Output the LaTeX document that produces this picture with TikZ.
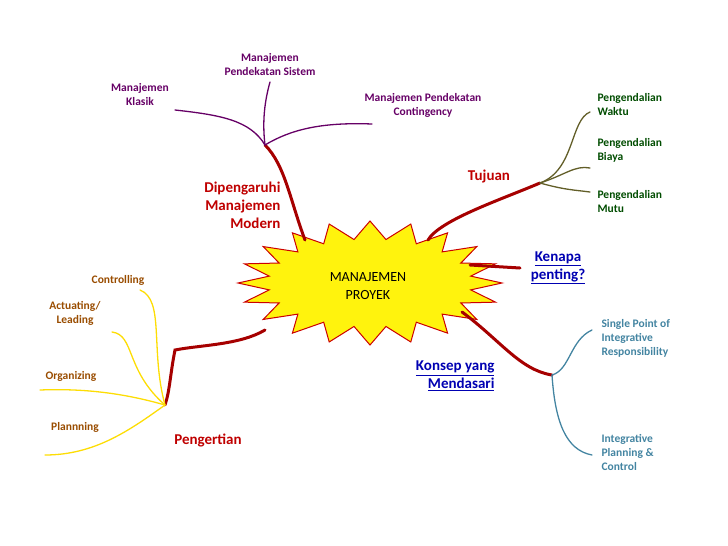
\documentclass[tikz,border=0pt]{standalone}
\usepackage{fontspec}
\setmainfont{Carlito}
\begin{document}
\begin{tikzpicture}[x=1pt,y=-1pt,
  trunk/.style={line width=3pt,draw=red!65!black,line cap=round},
  twig/.style={line width=1.3pt,line cap=round},
  leaf/.style={font=\fontsize{11.5}{14}\selectfont\bfseries,align=center},
  head/.style={font=\fontsize{15}{18}\selectfont\bfseries,text=red!75!black},
  link/.style={font=\fontsize{15}{18}\selectfont\bfseries,text=blue!70!black}]
\useasboundingbox (0,0) rectangle (728,546);
% bintang tengah
\fill[yellow!95!white,draw=red!80!black,line width=1pt]
  plot[samples=41,domain=0:40,variable=\k]
  ({370+(mod(\k,2)==0 ? 132 : 102)*cos(\k*360/40)},{283+(mod(\k,2)==0 ? 62 : 44)*sin(\k*360/40)}) -- cycle;
\node[font=\fontsize{14}{18}\selectfont,align=center] (pusat) at (368,286) {MANAJEMEN\\PROYEK};
% titik cabang
\coordinate (hubA) at (265,145);
\coordinate (hubB) at (540,183);
\coordinate (hubC) at (552,375);
\coordinate (hubD) at (165,405);
% batang utama
\draw[trunk] (305,240) .. controls (290,200) and (285,165) .. (hubA);
\draw[trunk] (428,240) .. controls (440,220) and (500,200) .. (hubB);
\draw[trunk] (470,265) -- (520,268);
\draw[trunk] (462,312) .. controls (500,340) and (520,370) .. (hubC);
\draw[trunk] (265,330) .. controls (240,345) and (200,345) .. (175,350) .. controls (170,375) and (170,390) .. (hubD);
% label batang
\node[head,align=right,anchor=east] (lblA) at (284,205) {Dipengaruhi\\Manajemen\\Modern};
\node[head] (lblB) at (489,177) {Tujuan};
\node[link,align=center] (lblC) at (558,268) {\underline{Kenapa}\\\underline{penting?}};
\node[link,align=right,anchor=east] (lblD) at (498,376) {\underline{Konsep yang}\\\underline{Mendasari}};
\node[head] (lblE) at (208,440) {Pengertian};
% daun ungu
\begin{scope}[violet!80!black]
\node[leaf] (klasik) at (140,95) {Manajemen\\Klasik};
\node[leaf] (sistem) at (270,65) {Manajemen\\Pendekatan Sistem};
\node[leaf] (conting) at (423,105) {Manajemen Pendekatan\\Contingency};
\draw[twig] (hubA) .. controls (250,120) and (220,115) .. (175,110);
\draw[twig] (hubA) .. controls (262,120) and (265,100) .. (270,82);
\draw[twig] (hubA) .. controls (290,130) and (320,122) .. (372,124);
\end{scope}
% daun hijau
\begin{scope}[green!30!black]
\node[leaf,align=left,anchor=west] (waktu) at (594,105) {Pengendalian\\Waktu};
\node[leaf,align=left,anchor=west] (biaya) at (594,150) {Pengendalian\\Biaya};
\node[leaf,align=left,anchor=west] (mutu) at (594,202) {Pengendalian\\Mutu};
\draw[twig,draw=olive!60!black] (hubB) .. controls (575,170) and (570,120) .. (590,112);
\draw[twig,draw=olive!60!black] (hubB) .. controls (565,175) and (575,165) .. (590,168);
\draw[twig,draw=olive!60!black] (hubB) .. controls (565,190) and (575,190) .. (590,192);
\end{scope}
% daun biru
\begin{scope}[cyan!60!black]
\node[leaf,align=left,anchor=west] (single) at (598,338) {Single Point of\\Integrative\\Responsibility};
\node[leaf,align=left,anchor=west] (integ) at (598,452) {Integrative\\Planning \&\\Control};
\draw[twig] (hubC) .. controls (570,370) and (570,340) .. (592,330);
\draw[twig] (hubC) .. controls (555,420) and (565,450) .. (592,455);
\end{scope}
% daun kuning
\begin{scope}[orange!60!black]
\node[leaf] (ctrl) at (118,280) {Controlling};
\node[leaf] (act) at (75,313) {Actuating/\\Leading};
\node[leaf] (org) at (71,376) {Organizing};
\node[leaf] (plan) at (75,427) {Plannning};
\draw[twig,draw=yellow!80!orange] (hubD) .. controls (150,350) and (165,300) .. (140,290);
\draw[twig,draw=yellow!80!orange] (hubD) .. controls (125,370) and (135,335) .. (112,332);
\draw[twig,draw=yellow!80!orange] (hubD) .. controls (130,395) and (90,388) .. (40,390);
\draw[twig,draw=yellow!80!orange] (hubD) .. controls (130,430) and (95,455) .. (45,455);
\end{scope}
\end{tikzpicture}
\end{document}
